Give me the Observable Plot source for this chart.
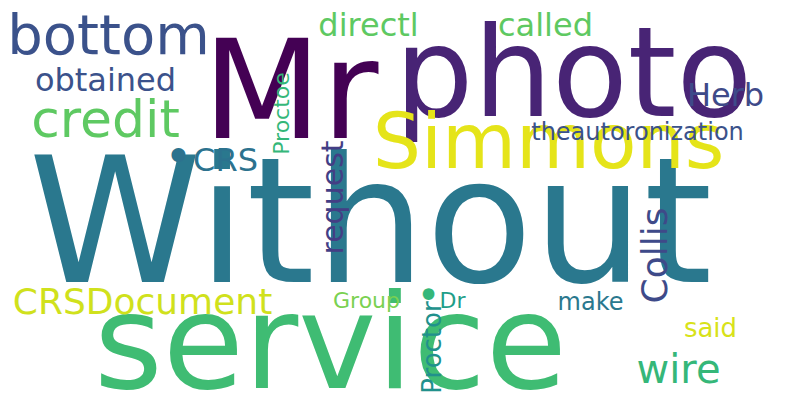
<!DOCTYPE html>
<html>
<head>
<meta charset="utf-8">
<script src="https://cdn.jsdelivr.net/npm/d3@7"></script>
<script src="https://cdn.jsdelivr.net/npm/@observablehq/plot@0.6"></script>
<style>body{margin:0;background:#fff}</style>
</head>
<body>
<div id="chart"></div>
<script>
const words  = ["Without","Mr","photo","service","Simmons","bottom","obtained","credit","directl","called","Herb","theautoronization","Proctoe","CRS","•","request","Collis","CRSDocument","Group","•","Dr","make","Proctor","said","wire"]
const cx     = [370,290,573,330,548,108,105,105,368,545,725,637,281,225,178,333,655,142,366,428,452,590,432,710,678]
const cy     = [225,93,76,345,143,36,80,120,25,25,95,132,113,160,157,197,255,302,300,296,300,302,347,328,370]
const sizes  = [175,138,124,132,76,56,32,52,32,32,32,24,22,32,48,30,36,36,22,40,22,24,26,26,40]
const angles = [0,0,0,0,0,0,0,0,0,0,0,0,-90,0,0,-90,-90,0,0,0,0,0,-90,0,0]
const colors = ["#2a788e","#440154","#482475","#3fbc73","#e5e419","#3b528b","#3b528b","#5ec962","#5ec962","#5ec962","#3e4a89","#3b528b","#35b779","#2c728e","#2c728e","#433e85","#3e4a89","#d0e11c","#7ad151","#35b779","#1f9e89","#2a788e","#21918c","#d8e219","#35b779"]

const data = words.map((w, i) => ({w, x: cx[i], y: cy[i], s: sizes[i], r: angles[i], c: colors[i]}))

let chart = Plot.plot({
  width: 790,
  height: 405,
  margin: 0,
  x: {domain: [0, 790], axis: null},
  y: {domain: [0, 405], range: [0, 405], axis: null},
  color: {type: "identity"},
  style: {fontFamily: "DejaVu Sans", background: "#fff"},
  marks: [
    Plot.text(data, {
      x: "x", y: "y", text: "w", fontSize: "s", rotate: "r", fill: "c",
      textAnchor: "middle", lineAnchor: "middle"
    })
  ]
})
d3.select('#chart').append(() => chart)
</script>
</body>
</html>
